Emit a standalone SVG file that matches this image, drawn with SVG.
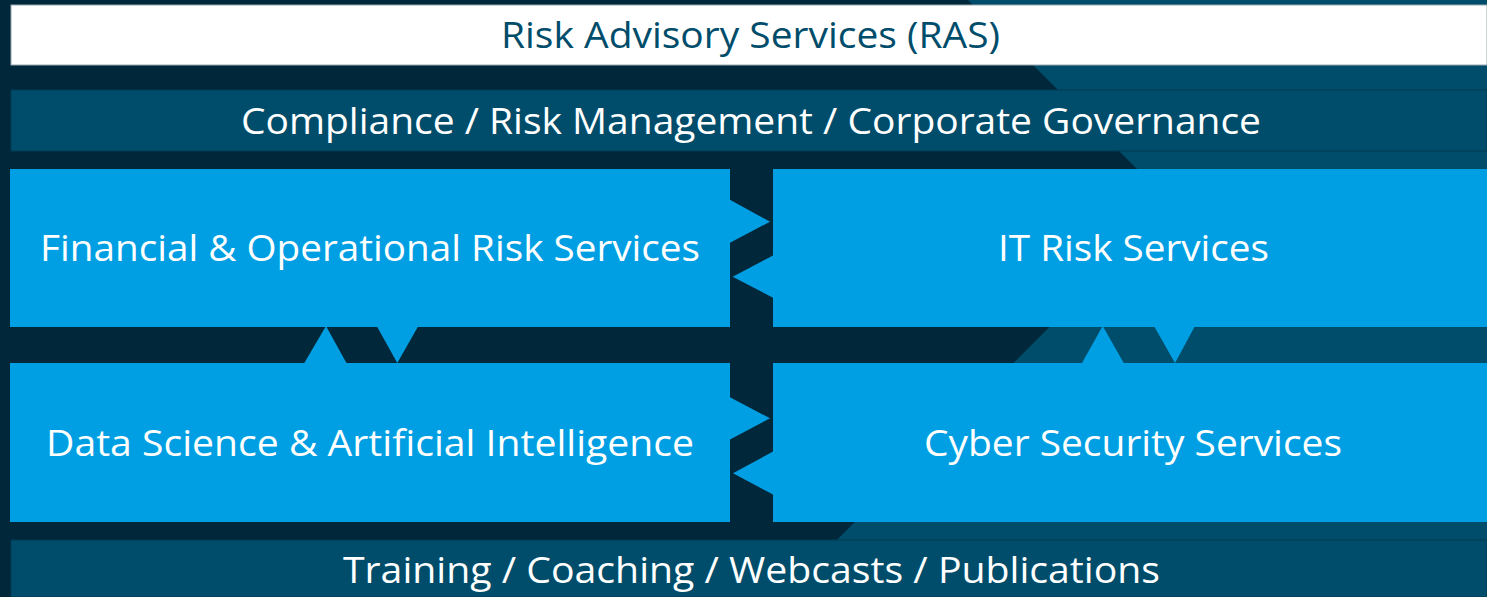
<svg xmlns="http://www.w3.org/2000/svg" width="1487" height="597" viewBox="0 0 1487 597">
<style>
.lbl{font-family:"Open Sans","Liberation Sans",sans-serif;font-size:37px;text-anchor:middle;fill:#ffffff}
.title{fill:#004d6b}
.band{fill:#004d6b}
.box{fill:#009fe3}
.arr{fill:#009fe3}
</style>
<rect x="0" y="0" width="1487" height="597" fill="#01283a"/>
<polygon points="968,0 1487,0 1487,597 780,597 1172,204" fill="#004d6b"/>
<g id="ras">
<rect x="11" y="5" width="1476" height="60" fill="#ffffff" stroke="#9aa8b0" stroke-width="1"/>
<text class="lbl title" x="750.5" y="48" textLength="499" lengthAdjust="spacingAndGlyphs">Risk Advisory Services (RAS)</text>
</g>
<g id="compliance">
<rect class="band" x="11" y="90" width="1476" height="61" stroke="#013a52" stroke-width="1"/>
<text class="lbl" x="751" y="133.5" textLength="1020" lengthAdjust="spacingAndGlyphs">Compliance / Risk Management / Corporate Governance</text>
</g>
<g id="financial">
<rect class="box" x="10" y="169" width="720" height="158"/>
<text class="lbl" x="370" y="261" textLength="660" lengthAdjust="spacingAndGlyphs">Financial &amp; Operational Risk Services</text>
</g>
<g id="itrisk">
<rect class="box" x="773" y="169" width="714" height="158"/>
<text class="lbl" x="1133.5" y="261" textLength="271" lengthAdjust="spacingAndGlyphs">IT Risk Services</text>
</g>
<g id="datascience">
<rect class="box" x="10" y="363" width="720" height="159"/>
<text class="lbl" x="370" y="456" textLength="648" lengthAdjust="spacingAndGlyphs">Data Science &amp; Artificial Intelligence</text>
</g>
<g id="cyber">
<rect class="box" x="773" y="363" width="714" height="159"/>
<text class="lbl" x="1133" y="456" textLength="418" lengthAdjust="spacingAndGlyphs">Cyber Security Services</text>
</g>
<g id="training">
<rect class="band" x="11" y="540" width="1476" height="57" stroke="#013a52" stroke-width="1"/>
<text class="lbl" x="751.5" y="582.5" textLength="817" lengthAdjust="spacingAndGlyphs">Training / Coaching / Webcasts / Publications</text>
</g>
<g id="connectors">
<polygon class="arr" points="729,199.3 770,221.7 729,243.3"/>
<polygon class="arr" points="774,255 732.7,276.7 774,298.3"/>
<polygon class="arr" points="729,396.7 770,418.3 729,440"/>
<polygon class="arr" points="774,451 733,473.3 774,495"/>
<polygon class="arr" points="304,363.5 326,326 346.7,363.5"/>
<polygon class="arr" points="376.7,326 397.3,363 418.3,326"/>
<polygon class="arr" points="1081.7,363.5 1102.7,326 1124,363.5"/>
<polygon class="arr" points="1154,326 1175,363 1195,326"/>
</g>
</svg>
